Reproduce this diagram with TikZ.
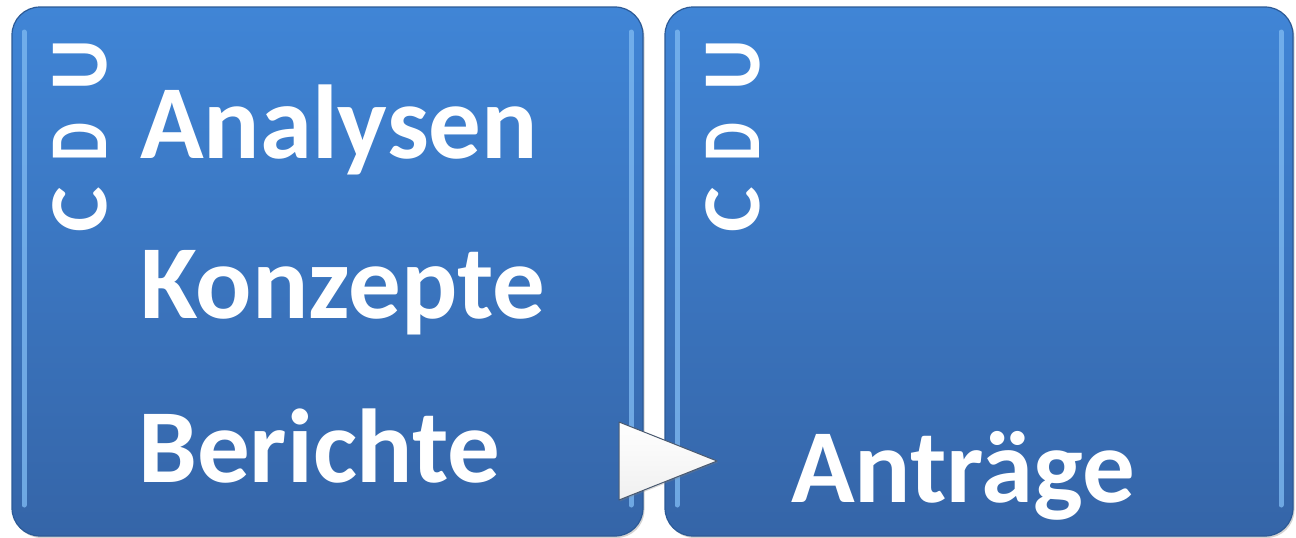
\documentclass[tikz,border=0pt]{standalone}
\usepackage{fontspec}
\usepackage{graphicx}
\newfontfamily\carlito{Carlito}
\usetikzlibrary{shadows}
\definecolor{boxtop}{HTML}{4085D6}
\definecolor{boxbot}{HTML}{3565A8}
\definecolor{boxline}{HTML}{2C5A96}
\definecolor{bevel}{HTML}{7DB8F0}
\definecolor{triline}{HTML}{4A5A70}
\tikzset{
  panel/.style={rounded corners=28pt, top color=boxtop, bottom color=boxbot, draw=boxline, line width=1.2pt,
    drop shadow={opacity=0.35, shadow xshift=1.5pt, shadow yshift=-2pt}},
  bevelline/.style={bevel, line width=5pt, line cap=round, opacity=0.8},
  bigtext/.style={text=white, inner sep=0pt, anchor=base west, font=\carlito\bfseries\fontsize{105}{112}\selectfont},
  cdutext/.style={text=white, inner sep=0pt, rotate=90, font=\carlito\bfseries\fontsize{82}{90}\selectfont},
}
\begin{document}
\begin{tikzpicture}[x=1pt,y=-1pt]
\useasboundingbox (0,0) rectangle (1296,538);
% panels
\path[panel] (12,7) rectangle (643,536);
\path[panel] (665,7) rectangle (1293,536);
% bevel highlights
\draw[bevelline] (24,32) -- (24,505);
\draw[bevelline] (631,32) -- (631,505);
\draw[bevelline] (677,32) -- (677,505);
\draw[bevelline] (1281,32) -- (1281,505);
% CDU letters, left panel
\node[cdutext] (c1) at (80,210) {\scalebox{1.05}[1]{C}};
\node[cdutext] (d1) at (80,142) {\scalebox{0.75}[1]{D}};
\node[cdutext] (u1) at (80,65) {\scalebox{0.95}[1]{U}};
% CDU letters, right panel
\node[cdutext] (c2) at (733,210) {\scalebox{1.05}[1]{C}};
\node[cdutext] (d2) at (733,142) {\scalebox{0.75}[1]{D}};
\node[cdutext] (u2) at (733,65) {\scalebox{0.95}[1]{U}};
% main texts
\node[bigtext] (analysen) at (140,158) {Analysen};
\node[bigtext] (konzepte) at (140,318) {Konzepte};
\node[bigtext] (berichte) at (138,482) {Berichte};
\node[bigtext] (antraege) at (791,502) {Anträge};
% triangle arrow
\coordinate (ta) at (619,422);
\coordinate (tb) at (619,500);
\coordinate (tc) at (717,461);
\shade[top color=white, bottom color=white!88!gray, draw=triline, line width=1pt, line join=round,
  drop shadow={opacity=0.3, shadow xshift=1pt, shadow yshift=-1.5pt}] (ta) -- (tc) -- (tb) -- cycle;
\end{tikzpicture}
\end{document}
